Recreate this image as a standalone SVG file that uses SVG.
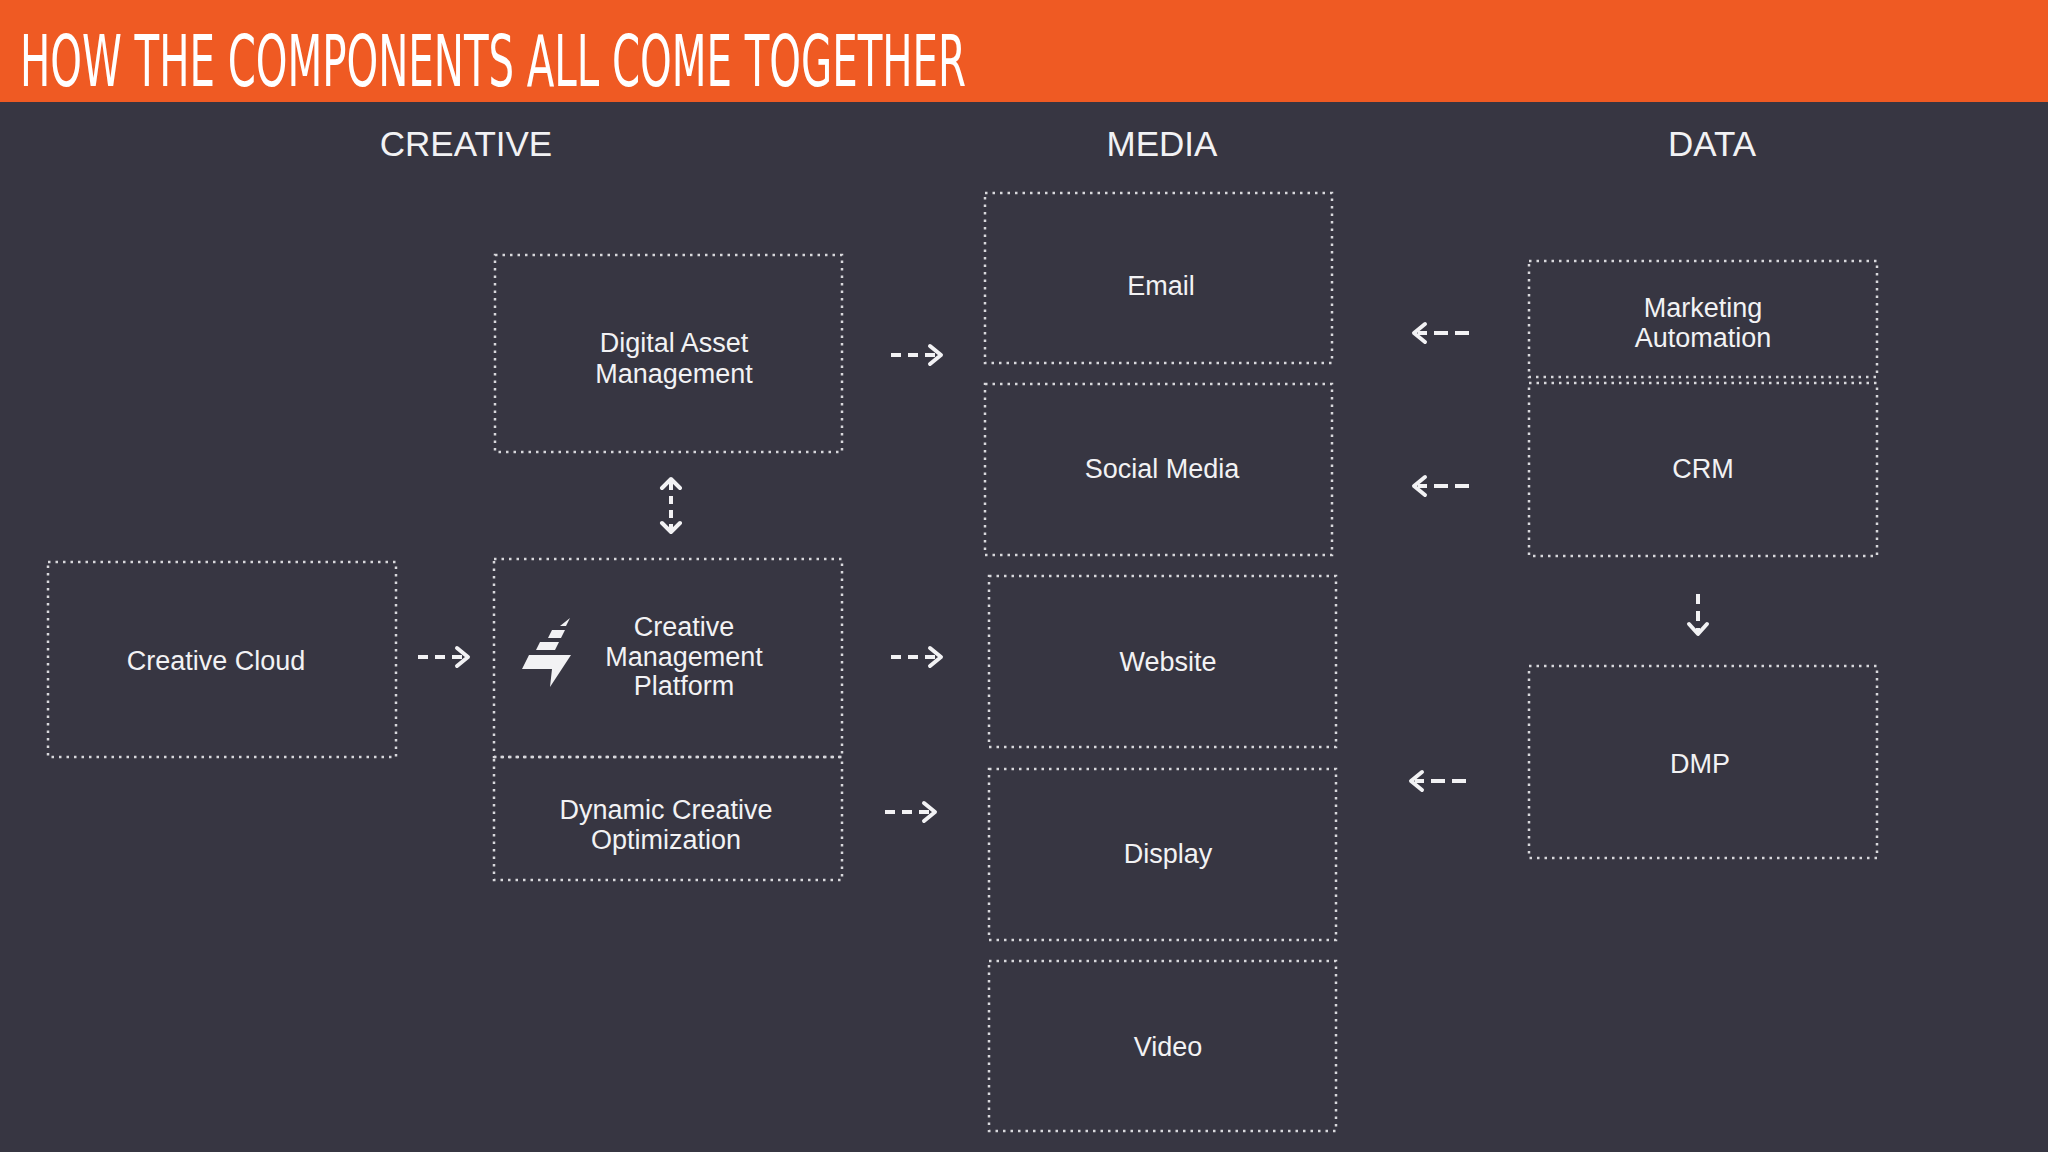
<svg xmlns="http://www.w3.org/2000/svg" width="2048" height="1152" viewBox="0 0 2048 1152">
<style>
.box{fill:none;stroke:#d8d8dc;stroke-width:2.5;stroke-dasharray:2.5 5}
.t{font-family:"Liberation Sans",Arial,sans-serif;font-size:27px;fill:#f2f2f4;text-anchor:middle}
.h{font-family:"Liberation Sans",Arial,sans-serif;font-size:35px;fill:#f2f2f4;text-anchor:middle}
.ln{fill:none;stroke:#f2f2f4;stroke-width:4;stroke-dasharray:10 7}
.hd{fill:none;stroke:#f2f2f4;stroke-width:4;stroke-linecap:round;stroke-linejoin:round}
</style>
<rect width="2048" height="1152" fill="#373642"/>
<rect width="2048" height="102" fill="#ef5a23"/>
<text x="20" y="86" font-family="DejaVu Sans Condensed,Liberation Sans,sans-serif" font-size="72" fill="#ffffff" textLength="946" lengthAdjust="spacingAndGlyphs" transform="scale(1,1)">HOW THE COMPONENTS ALL COME TOGETHER</text>
<text class="h" x="466" y="156">CREATIVE</text>
<text class="h" x="1162" y="156">MEDIA</text>
<text class="h" x="1712" y="156">DATA</text>
<g id="dam"><rect class="box" x="495" y="255" width="347" height="197"/><text class="t" x="674" y="352">Digital Asset</text><text class="t" x="674" y="383">Management</text></g>
<g id="cc"><rect class="box" x="48" y="562" width="348" height="195"/><text class="t" x="216" y="670">Creative Cloud</text></g>
<g id="cmp"><rect class="box" x="494" y="559" width="348" height="198"/>
<polygon points="570,618 566,626 560,626" fill="#f2f2f4"/>
<polygon points="565,630 561,638 548,638 552,630" fill="#f2f2f4"/>
<polygon points="559,642 555,650 536,650 540,642" fill="#f2f2f4"/>
<polygon points="571,655 550,687 552,669 522,669 529,655" fill="#f2f2f4"/>
<text class="t" x="684" y="636">Creative</text><text class="t" x="684" y="666">Management</text><text class="t" x="684" y="695">Platform</text></g>
<g id="dco"><rect class="box" x="494" y="757" width="348" height="123"/><text class="t" x="666" y="819">Dynamic Creative</text><text class="t" x="666" y="849">Optimization</text></g>
<g id="email"><rect class="box" x="985" y="193" width="347" height="170"/><text class="t" x="1161" y="295">Email</text></g>
<g id="social"><rect class="box" x="985" y="384" width="347" height="171"/><text class="t" x="1162" y="478">Social Media</text></g>
<g id="website"><rect class="box" x="989" y="576" width="347" height="171"/><text class="t" x="1168" y="671">Website</text></g>
<g id="display"><rect class="box" x="989" y="769" width="347" height="171"/><text class="t" x="1168" y="863">Display</text></g>
<g id="video"><rect class="box" x="989" y="961" width="347" height="170"/><text class="t" x="1168" y="1056">Video</text></g>
<g id="ma"><rect class="box" x="1529" y="261" width="348" height="116"/><text class="t" x="1703" y="317">Marketing</text><text class="t" x="1703" y="347">Automation</text></g>
<g id="crm"><rect class="box" x="1529" y="383" width="348" height="173"/><text class="t" x="1703" y="478">CRM</text></g>
<g id="dmp"><rect class="box" x="1529" y="666" width="348" height="192"/><text class="t" x="1700" y="773">DMP</text></g>
<g id="connectors">
<path class="ln" d="M891 355H938"/><path class="hd" d="M930 346L941 355L930 364"/>
<path class="ln" d="M891 657H938"/><path class="hd" d="M930 648L941 657L930 666"/>
<path class="ln" d="M418 657H465"/><path class="hd" d="M457 648L468 657L457 666"/>
<path class="ln" d="M885 812H932"/><path class="hd" d="M924 803L935 812L924 821"/>
<path class="ln" d="M1469 333H1418" style="stroke-dasharray:14 7"/><path class="hd" d="M1425 324L1414 333L1425 342"/>
<path class="ln" d="M1469 486H1418" style="stroke-dasharray:14 7"/><path class="hd" d="M1425 477L1414 486L1425 495"/>
<path class="ln" d="M1466 781H1415" style="stroke-dasharray:14 7"/><path class="hd" d="M1422 772L1411 781L1422 790"/>
<path class="ln" d="M1698 594V632"/><path class="hd" d="M1689 624L1698 634L1707 624"/>
<path class="ln" d="M671 482V530" style="stroke-dasharray:8 6"/><path class="hd" d="M662 488L671 479L680 488M662 523L671 532L680 523"/>
</g>
</svg>
